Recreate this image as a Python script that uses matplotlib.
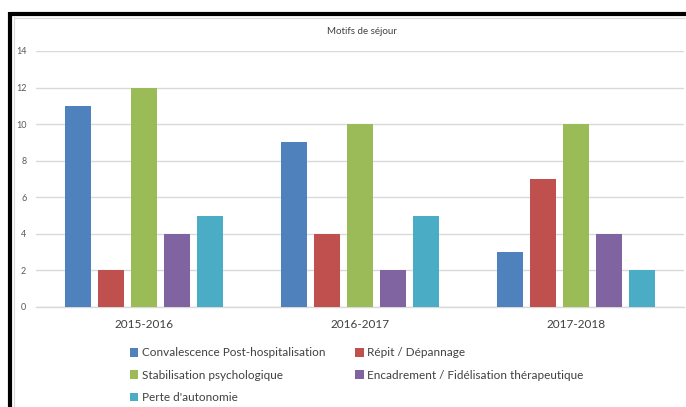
import numpy as np
import matplotlib
matplotlib.use("Agg")
import matplotlib.pyplot as plt
from matplotlib.lines import Line2D

plt.rcParams['font.family'] = ['Lato', 'DejaVu Sans']

periods = ['2015-2016', '2016-2017', '2017-2018']
motifs = ['Convalescence Post-hospitalisation', 'Répit / Dépannage',
          'Stabilisation psychologique', 'Encadrement / Fidélisation thérapeutique',
          "Perte d'autonomie"]
convalescence = [11, 9, 3]
repit = [2, 4, 7]
stabilisation = [12, 10, 10]
encadrement = [4, 2, 4]
perte = [5, 5, 2]
series = [convalescence, repit, stabilisation, encadrement, perte]
colors = ['#4F81BD', '#C0504D', '#9BBB59', '#8064A2', '#4BACC6']

fig = plt.figure(figsize=(6.86, 4.07), dpi=100)
ax = fig.add_axes([36 / 686, 1 - 307 / 407, 648 / 686, 256 / 407])

x = np.arange(len(periods))
step = 33 / 216
width = 26 / 216
handles = []
for i, (vals, col) in enumerate(zip(series, colors)):
    h = ax.bar(x + (i - 2) * step, vals, width, color=col, label=motifs[i], zorder=3)
    handles.append(h)

ax.set_xlim(-0.5, 2.5)
ax.set_ylim(0, 14)
ax.set_yticks(range(0, 15, 2))
ax.grid(axis='y', color='#D9D9D9', linewidth=1, zorder=0)
for s in ['top', 'right', 'left']:
    ax.spines[s].set_visible(False)
ax.spines['bottom'].set_color('#D9D9D9')
ax.spines['bottom'].set_linewidth(1)
ax.tick_params(axis='y', length=0, labelsize=6.5, labelcolor='#595959', pad=7)
ax.tick_params(axis='x', length=0, labelsize=8.5, labelcolor='#404040', pad=9)
ax.set_xticks(x)
ax.set_xticklabels(periods)

fig.text(362 / 686, 1 - 31 / 407, 'Motifs de séjour', ha='center', va='center',
         fontsize=7, color='#404040')

order = [0, 2, 4, 1, 3]
leg = fig.legend([handles[k] for k in order], [motifs[k] for k in order],
                 ncol=2, loc='upper left', bbox_to_anchor=(130 / 686, 1 - 347.5 / 407),
                 frameon=False, fontsize=8.5, handlelength=0.7, handleheight=0.7,
                 handletextpad=0.3, columnspacing=2.55, labelspacing=0.95,
                 borderaxespad=0, borderpad=0)
for t in leg.get_texts():
    t.set_color('#404040')

# black frame on top and left, thin grey inner edge
fig.add_artist(Line2D([14 / 686, 1], [1 - 17.5 / 407, 1 - 17.5 / 407], color='#D9D9D9',
                      linewidth=0.8, transform=fig.transFigure))
fig.add_artist(Line2D([13.5 / 686, 13.5 / 686], [0, 1 - 17 / 407], color='#D9D9D9',
                      linewidth=0.8, transform=fig.transFigure))
fig.add_artist(Line2D([10 / 686, 1], [1 - 14 / 407, 1 - 14 / 407], color='black',
                      linewidth=3, transform=fig.transFigure, solid_capstyle='butt'))
fig.add_artist(Line2D([10 / 686, 10 / 686], [0, 1 - 12 / 407], color='black',
                      linewidth=3, transform=fig.transFigure, solid_capstyle='butt'))

fig.savefig('out.png', dpi=100)
